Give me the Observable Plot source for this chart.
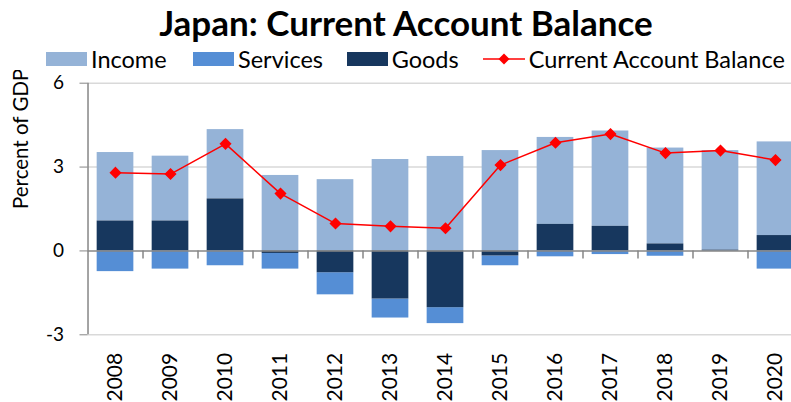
<!DOCTYPE html>
<html><head><meta charset="utf-8">
<script src="https://cdn.jsdelivr.net/npm/d3@7"></script>
<script src="https://cdn.jsdelivr.net/npm/@observablehq/plot@0.6"></script>
<style>
body{margin:0;background:#fff;overflow:hidden;font-family:Lato,"Open Sans",sans-serif;color:#000;}
#wrap{position:relative;width:791px;height:402px;overflow:hidden;}
#title{position:absolute;left:0;top:1px;width:812px;text-align:center;font-weight:700;font-size:35px;line-height:42px;white-space:nowrap;}
.item{position:absolute;top:47px;height:24px;display:flex;align-items:center;font-size:23.5px;white-space:nowrap;}
.sw{width:41px;height:14px;margin-right:4px;}
#chart{position:absolute;left:0;top:70px;}
</style></head>
<body>
<div id="wrap">
  <div id="title">Japan: Current Account Balance</div>
  <div id="legend"></div>
  <div id="chart"></div>
</div>
<script>
const years = ["2008","2009","2010","2011","2012","2013","2014","2015","2016","2017","2018","2019","2020"];
const income   = [2.45, 2.32, 2.48, 2.70, 2.55, 3.27, 3.38, 3.59, 3.11, 3.41, 3.43, 3.56, 3.35];
const services = [-0.74, -0.65, -0.53, -0.56, -0.79, -0.68, -0.57, -0.35, -0.21, -0.13, -0.19, -0.01, -0.65];
const goods    = [1.07, 1.07, 1.86, -0.09, -0.78, -1.72, -2.03, -0.18, 0.95, 0.88, 0.25, 0.03, 0.55];
const balance  = [2.80, 2.75, 3.83, 2.05, 0.98, 0.88, 0.81, 3.07, 3.87, 4.18, 3.50, 3.59, 3.25];
const seriesNames = ["Income", "Services", "Goods"];
const seriesColors = ["#95b3d7", "#558ed5", "#17375e"];
const lineName = "Current Account Balance";
const lineColor = "#ff0000";
const yTicks = [-3, 0, 3, 6];
const yLabel = "Percent of GDP";

const seriesValues = {Income: income, Services: services, Goods: goods};
const rows = [];
for (const s of seriesNames) years.forEach((y, i) => rows.push({year: y, series: s, value: seriesValues[s][i]}));
const lineRows = years.map((y, i) => ({year: y, value: balance[i]}));

// legend
const legendX = [46, 193, 346.7];
const legend = document.getElementById("legend");
seriesNames.forEach((s, i) => {
  const d = document.createElement("div");
  d.className = "item";
  d.style.left = legendX[i] + "px";
  d.innerHTML = `<span class="sw" style="background:${seriesColors[i]}"></span><span>${s}</span>`;
  legend.appendChild(d);
});
{
  const d = document.createElement("div");
  d.className = "item";
  d.style.left = "482.7px";
  d.innerHTML = `<svg width="42" height="14" style="margin-right:4px"><line x1="0" y1="7" x2="42" y2="7" stroke="${lineColor}" stroke-width="1.5"/><path d="M21,1.5L26.5,7L21,12.5L15.5,7Z" fill="${lineColor}"/></svg><span>${lineName}</span>`;
  legend.appendChild(d);
}

const half = 27.5;
const chart = Plot.plot({
  width: 791,
  height: 332,
  marginTop: 12.7,
  marginBottom: 67.7,
  marginLeft: 87.5,
  marginRight: 0,
  style: {fontFamily: "Lato, 'Open Sans', sans-serif", background: "white", overflow: "hidden"},
  x: {type: "band", domain: years, range: [87.5, 802.5], paddingInner: 0.333, paddingOuter: 0.1667, round: false, label: null},
  y: {domain: [-3, 6], label: null},
  color: {domain: seriesNames, range: seriesColors},
  marks: [
    Plot.ruleY(yTicks.filter(d => d !== 0), {stroke: "#d9d9d9", strokeWidth: 1.5}),
    Plot.barY(rows, {x: "year", y: "value", fill: "series", z: "series", order: ["Goods", "Income", "Services"]}),
    Plot.ruleY([0], {stroke: "#868686", strokeWidth: 1.5}),
    Plot.ruleX(years.slice(1), {x: d => d, y1: 0, y2: 0, insetBottom: -8, dx: -half, stroke: "#868686", strokeWidth: 1.5}),
    Plot.ruleX([years[0]], {x: d => d, y1: -3, y2: 6, dx: -half, stroke: "#868686", strokeWidth: 1.5}),
    Plot.axisY({ticks: yTicks, tickSize: 8, tickPadding: 16, fontSize: 19, tickFormat: d => String(d), stroke: "#868686", label: null, color: "#000"}),
    Plot.axisX({tickRotate: -90, tickSize: 0, tickPadding: 18, fontSize: 21, label: null, color: "#000"}),
    Plot.text([yLabel], {frameAnchor: "left", rotate: -90, dx: -66.5, fontSize: 20.5, fill: "#000"}),
    Plot.lineY(lineRows, {x: "year", y: "value", stroke: lineColor, strokeWidth: 1.5}),
    Plot.dot(lineRows, {x: "year", y: "value", symbol: "diamond2", r: 4.5, fill: lineColor, stroke: lineColor})
  ]
});
document.getElementById("chart").appendChild(chart);
</script>
</body></html>
